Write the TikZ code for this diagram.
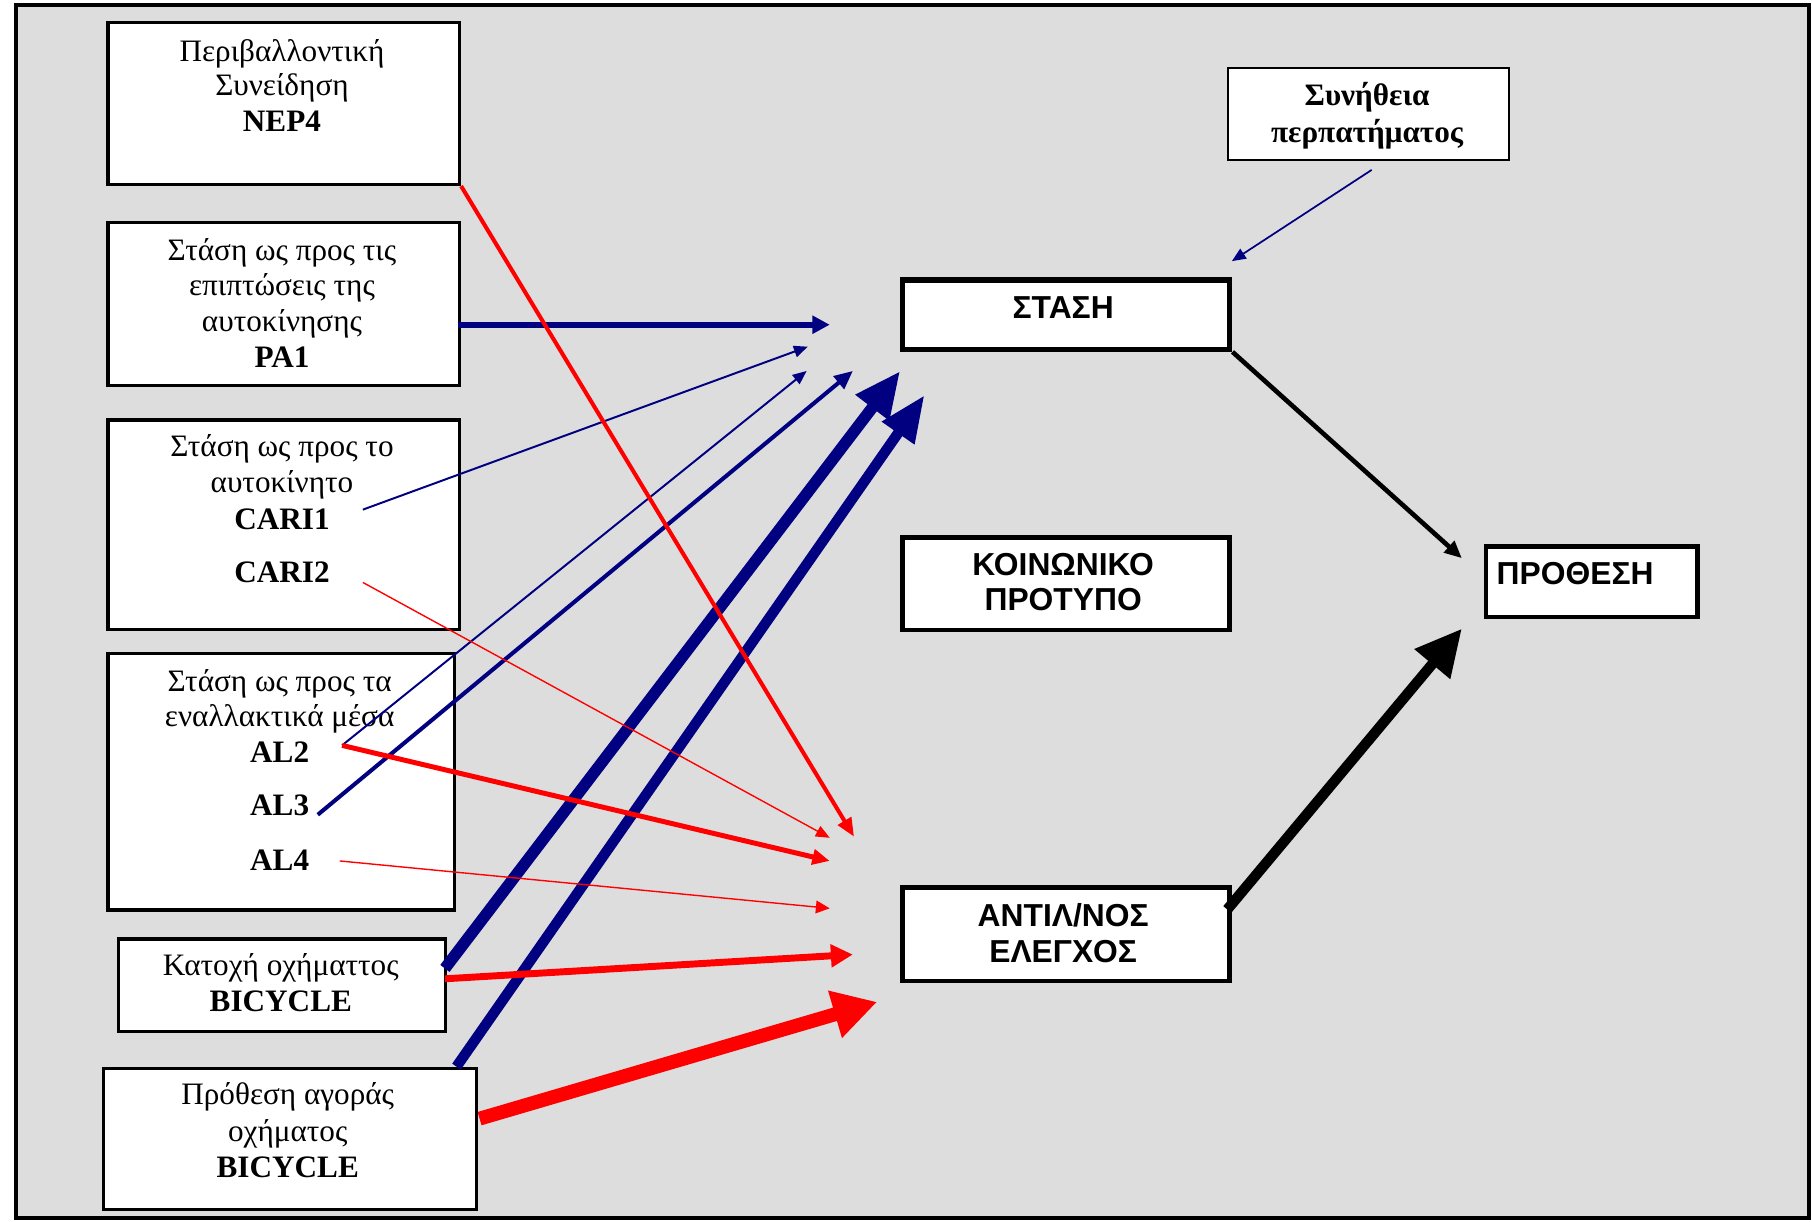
\documentclass[tikz,border=0pt]{standalone}
\usepackage{fontspec}
\setmainfont{Liberation Serif}
\setsansfont{Liberation Sans}
\usetikzlibrary{arrows.meta}
\definecolor{panel}{RGB}{221,221,221}
\definecolor{navyline}{RGB}{0,0,128}
\definecolor{redline}{RGB}{255,0,0}
\begin{document}
\begin{tikzpicture}[x=1pt,y=-1pt,
  box/.style={draw=black, fill=white, line width=3pt, anchor=north west, inner sep=0pt},
  thinbox/.style={box, line width=1.5pt},
  heavybox/.style={box, line width=4.5pt},
  lbl/.style={anchor=base, inner sep=0pt, font=\fontsize{27}{31}\selectfont},
  code/.style={lbl, font=\fontsize{27}{31}\selectfont\bfseries},
  boldserif/.style={lbl, font=\fontsize{27}{31}\selectfont\bfseries},
  capstext/.style={anchor=base, inner sep=0pt, font=\fontsize{27.5}{31}\selectfont\sffamily\bfseries},
  conn/.style n args={4}{draw=#1, line width=#2, -{Triangle[length=#3, width=#4]}},
]
\useasboundingbox (0,0) rectangle (1568,1057);
\draw[line width=3.5pt, fill=panel] (14,4) rectangle (1565,1054);

% ---- predictor boxes (left column)
\node[box, minimum width=304, minimum height=140] (nep) at (92,18) {};
\node[lbl] (nepA) at (244,53) {Περιβαλλοντική};
\node[lbl] (nepB) at (244,83) {Συνείδηση};
\node[code] (nepC) at (244,114) {NEP4};

\node[box, minimum width=304, minimum height=141] (pa) at (92,191) {};
\node[lbl] (paA) at (244,225) {Στάση ως προς τις};
\node[lbl] (paB) at (244,256) {επιπτώσεις της};
\node[lbl] (paC) at (244,287) {αυτοκίνησης};
\node[code] (paD) at (244,318) {PA1};

\node[box, minimum width=304, minimum height=181] (car) at (92,362) {};
\node[lbl] (carA) at (244,395) {Στάση ως προς το};
\node[lbl] (carB) at (244,426) {αυτοκίνητο};
\node[code] (cari1) at (244,458) {CARI1};
\node[code] (cari2) at (244,504) {CARI2};

\node[box, minimum width=300, minimum height=222] (alt) at (92,564) {};
\node[lbl] (altA) at (242,598) {Στάση ως προς τα};
\node[lbl] (altB) at (242,629) {εναλλακτικά μέσα};
\node[code] (al2) at (242,660) {AL2};
\node[code] (al3) at (242,706) {AL3};
\node[code] (al4) at (242,753) {AL4};

\node[box, minimum width=283, minimum height=80] (own) at (101,811) {};
\node[lbl] (ownA) at (243,844) {Κατοχή οχήματτος};
\node[code] (ownB) at (243,875) {BICYCLE};

\node[box, minimum width=323, minimum height=122] (buy) at (88,923) {};
\node[lbl] (buyA) at (249,956) {Πρόθεση αγοράς};
\node[lbl] (buyB) at (249,988) {οχήματος};
\node[code] (buyC) at (249,1019) {BICYCLE};

% ---- model constructs (right side)
\node[thinbox, minimum width=243, minimum height=80] (walk) at (1062,58) {};
\node[boldserif] (walkA) at (1183,91) {Συνήθεια};
\node[boldserif] (walkB) at (1183,123) {περπατήματος};

\node[heavybox, minimum width=283, minimum height=60] (att) at (779,240) {};
\node[capstext] (attA) at (920,276) {ΣΤΑΣΗ};

\node[box, line width=4pt, minimum width=283, minimum height=80] (norm) at (779,463) {};
\node[capstext] (normA) at (920,498) {ΚΟΙΝΩΝΙΚΟ};
\node[capstext] (normB) at (920,528) {ΠΡΟΤΥΠΟ};

\node[box, line width=4pt, minimum width=283, minimum height=81] (pbc) at (779,766) {};
\node[capstext] (pbcA) at (920,802) {ΑΝΤΙΛ/ΝΟΣ};
\node[capstext] (pbcB) at (920,833) {ΕΛΕΓΧΟΣ};

\node[box, line width=4pt, minimum width=183, minimum height=61] (int) at (1284,471) {};
\node[capstext] (intA) at (1363,506) {ΠΡΟΘΕΣΗ};

% ---- connector end points
\coordinate (paOut) at (396,281);
\coordinate (cari1Out) at (314,441);
\coordinate (cari2Out) at (314,504);
\coordinate (al2Out) at (296,645);
\coordinate (al3Out) at (275,705);
\coordinate (al4Out) at (294,745);
\coordinate (ownBlueOut) at (385,838);
\coordinate (ownRedOut) at (385,847);
\coordinate (buyBlueOut) at (395,923);
\coordinate (buyRedOut) at (415,968);
\coordinate (walkOut) at (1187,147);
\coordinate (pbcOut) at (1062,787);

\coordinate (attInPA) at (718,281);
\coordinate (attInC1) at (699,300);
\coordinate (attInA2) at (698,321);
\coordinate (attInA3) at (738,321);
\coordinate (attInOwn) at (779,321);
\coordinate (attInBuy) at (800,342);
\coordinate (attInWalk) at (1066,226);
\coordinate (pbcInNep) at (739,724);
\coordinate (pbcInC2) at (718,725);
\coordinate (pbcInA2) at (718,745);
\coordinate (pbcInA4) at (718,786);
\coordinate (pbcInOwn) at (738,826);
\coordinate (pbcInBuy) at (759,867);
\coordinate (intInAtt) at (1265,483);
\coordinate (intInPbc) at (1265,544);

% ---- paths towards ΣΤΑΣΗ
\draw[conn={navyline}{5pt}{15pt}{15pt}] (paOut) -- (attInPA);
\draw[conn={navyline}{1.7pt}{12pt}{10pt}] (cari1Out) -- (attInC1);
\draw[conn={navyline}{1.7pt}{12pt}{10pt}] (al2Out) -- (attInA2);
\draw[conn={navyline}{3.5pt}{16pt}{14pt}] (al3Out) -- (attInA3);
\draw[conn={navyline}{10pt}{40pt}{34pt}] (ownBlueOut) -- (attInOwn);
\draw[conn={navyline}{9pt}{40pt}{32pt}] (buyBlueOut) -- (attInBuy);
\draw[conn={navyline}{1.5pt}{12pt}{10pt}] (walkOut) -- (attInWalk);

% ---- paths towards ΑΝΤΙΛ/ΝΟΣ ΕΛΕΓΧΟΣ
\draw[conn={redline}{3.5pt}{16pt}{13pt}] (nep.south east) -- (pbcInNep);
\draw[conn={redline}{1.2pt}{12pt}{10pt}] (cari2Out) -- (pbcInC2);
\draw[conn={redline}{4.3pt}{15pt}{13pt}] (al2Out) -- (pbcInA2);
\draw[conn={redline}{1.2pt}{12pt}{11pt}] (al4Out) -- (pbcInA4);
\draw[conn={redline}{6pt}{19pt}{19pt}] (ownRedOut) -- (pbcInOwn);
\draw[conn={redline}{12pt}{38pt}{40pt}] (buyRedOut) -- (pbcInBuy);

% ---- paths towards ΠΡΟΘΕΣΗ
\draw[conn={black}{4pt}{15pt}{13pt}] (att.south east) -- (intInAtt);
\draw[conn={black}{9pt}{40pt}{38pt}] (pbcOut) -- (intInPbc);
\end{tikzpicture}
\end{document}
